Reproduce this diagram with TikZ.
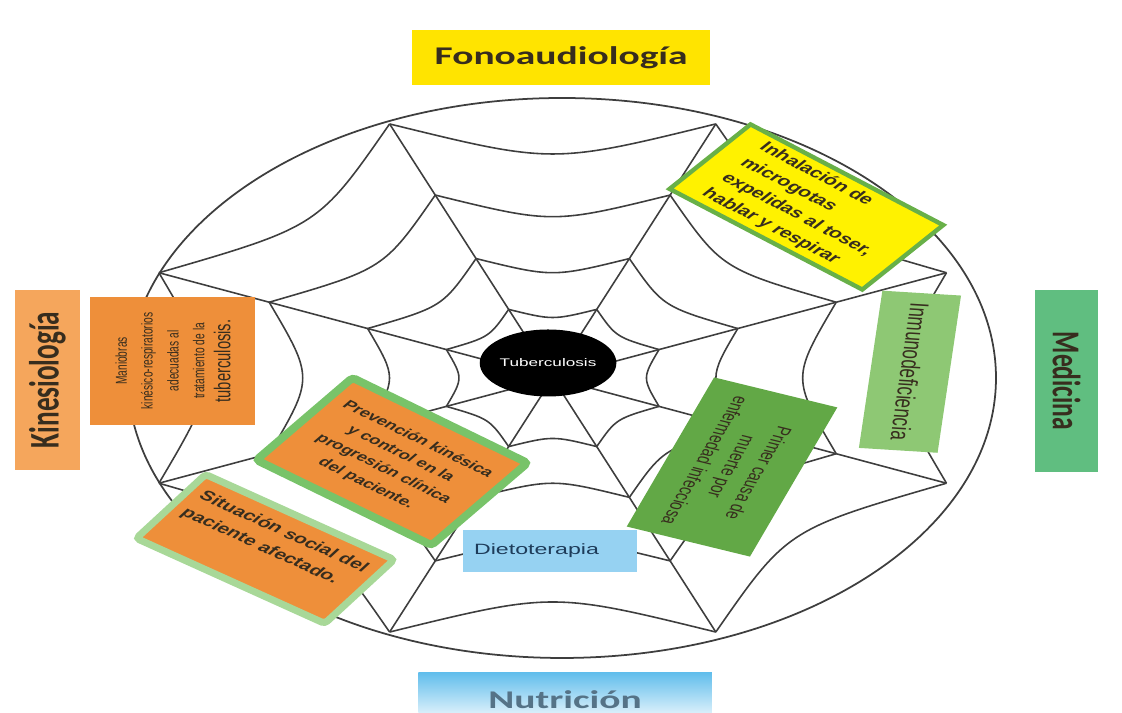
\documentclass[tikz,border=0pt]{standalone}
\usepackage{fontspec}
\setmainfont{Liberation Sans}
\newfontfamily\carlito{Carlito}
\usetikzlibrary{shapes.geometric}

\definecolor{fonoyellow}{RGB}{255,228,0}
\definecolor{kineorange}{RGB}{245,166,92}
\definecolor{medgreen}{RGB}{96,190,128}
\definecolor{nutriblue}{RGB}{98,190,236}
\definecolor{boxorange}{RGB}{238,143,58}
\definecolor{leafgreen}{RGB}{120,195,105}
\definecolor{palegreen}{RGB}{168,216,152}
\definecolor{borderolive}{RGB}{104,176,72}
\definecolor{lightleaf}{RGB}{142,200,116}
\definecolor{midleaf}{RGB}{98,168,70}
\definecolor{dietblue}{RGB}{150,210,242}
\definecolor{webgray}{RGB}{62,62,62}
\definecolor{darkink}{RGB}{55,45,30}
\definecolor{nutriink}{RGB}{85,115,135}
\definecolor{dietink}{RGB}{30,60,90}

\tikzset{
  web/.style={draw=webgray, line width=0.9pt},
  area/.style={inner sep=0pt, text=darkink, font=\carlito\bfseries\fontsize{14.5}{16}\selectfont},
  card/.style={inner sep=0pt, align=center, text=darkink},
}

\begin{document}
\begin{tikzpicture}[x=0.02cm, y=0.02cm, xscale=1.55, transform shape]
  \useasboundingbox (-362.6,-335) rectangle (361.3,378);
  \clip (-362.6,-335) rectangle (361.3,378);
  % spider web
  \coordinate (W) at (-6,0);
  \draw[webgray, line width=1pt] (0,0) circle (280);
  \foreach \a in {22.5,67.5,...,337.5}
    \draw[web] (W) -- ++(\a:275);
  \foreach \f in {1,0.72,0.47,0.27}
    \foreach \a in {22.5,67.5,...,337.5}
      \draw[web, shift={(W)}] (\a:275*\f) .. controls (\a+22.5:214*\f) .. (\a+45:275*\f);
  \node (tb) [ellipse, fill=black, minimum width=1.72cm, minimum height=1.34cm, inner sep=0pt,
    text=white, font=\fontsize{6.3}{7}\selectfont] at (-9,15) {Tuberculosis};

  % areas
  \node (fono) [area, fill=fonoyellow, minimum width=3.85cm, minimum height=1.1cm] at (-0.6,320.5) {Fonoaudiología};
  \node (kine) [area, fill=kineorange, rotate=90, minimum width=3.6cm, minimum height=0.84cm,
    font=\carlito\bfseries\fontsize{15.5}{17}\selectfont] at (-332,-2) {Kinesiología};
  \node (medi) [area, fill=medgreen, rotate=-90, minimum width=3.64cm, minimum height=0.81cm] at (325.5,-3) {Medicina};
  \node (nutri) [top color=nutriblue, bottom color=nutriblue!15!white, minimum width=3.79cm,
    minimum height=0.9cm, inner sep=0pt] at (2,-317.5) {};
  \node (nutrilabel) [area, text=nutriink, anchor=base] at (2,-331) {Nutrición};

  % cards
  \node (mani) [card, fill=boxorange, rotate=90, minimum width=2.56cm, minimum height=2.13cm,
    font=\fontsize{5.8}{9.5}\selectfont] at (-251,17)
    {Maniobras\\kinésico-respiratorios\\adecuadas al\\tratamiento de la\\{\fontsize{8.4}{9.5}\selectfont tuberculosis.}};
  \node (inha) [card, align=left, fill=yellow, draw=borderolive, line width=2.5pt, rotate=-39,
    minimum width=3.2cm, minimum height=1.66cm, font=\bfseries\fontsize{8}{11.2}\selectfont] at (157.7,171)
    {Inhalación de\\microgotas\\expelidas al toser,\\hablar y respirar};
  \node (inmu) [card, fill=lightleaf, rotate=-95.5, minimum width=3.16cm, minimum height=1.02cm,
    font=\fontsize{9.7}{11}\selectfont] at (224.5,6.25) {Inmunodeficiencia};
  \node (primer) [card, fill=midleaf, rotate=-110.7, minimum width=3.19cm, minimum height=1.7cm,
    font=\fontsize{7.7}{10.5}\selectfont] at (109.7,-89) {Primer causa de\\muerte por\\enfermedad infecciosa};
  \node (dieto) [card, fill=dietblue, text=dietink, minimum width=2.25cm, minimum height=0.84cm,
    font=\fontsize{8.5}{10}\selectfont] at (-7.7,-173) {Dietoterapia\hspace{0.35cm}};
  \node (situ) [card, align=left, fill=boxorange, draw=palegreen, line width=4pt, rounded corners=2pt,
    rotate=-35, minimum width=2.97cm, minimum height=1.56cm, font=\bfseries\fontsize{7.9}{11.5}\selectfont]
    at (-191.5,-171) {Situación social del\\paciente afectado.\\[2pt]};
  \node (prev) [card, fill=boxorange, draw=leafgreen, line width=4.5pt, rounded corners=2pt,
    rotate=-37, minimum width=2.83cm, minimum height=2.06cm, font=\bfseries\fontsize{7}{10.5}\selectfont]
    at (-109.7,-83.5) {Prevención kinésica\\y control en la\\progresión clínica\\del paciente.};
\end{tikzpicture}
\end{document}
